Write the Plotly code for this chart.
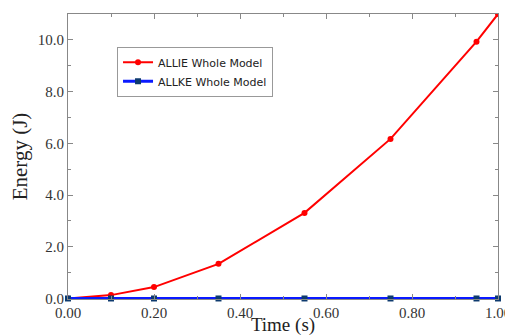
import plotly.graph_objects as go

time_s = [0.0, 0.1, 0.2, 0.35, 0.55, 0.75, 0.95, 1.0]
allie = [0.0, 0.13, 0.44, 1.34, 3.31, 6.17, 9.93, 11.0]
allke = [0.0, 0.0, 0.0, 0.0, 0.0, 0.0, 0.0, 0.0]
x_ticks = [0.0, 0.2, 0.4, 0.6, 0.8, 1.0]
y_ticks = [0.0, 2.0, 4.0, 6.0, 8.0, 10.0]

fig = go.Figure()
fig.add_trace(go.Scatter(x=time_s, y=allie, mode="lines+markers", name="ALLIE Whole Model",
                         line=dict(color="#ff0000", width=2),
                         marker=dict(color="#ff0000", size=6, symbol="circle")))
fig.add_trace(go.Scatter(x=time_s, y=allke, mode="lines+markers", name="ALLKE Whole Model",
                         line=dict(color="#0a1aff", width=3),
                         marker=dict(color="#0d3a6e", size=6, symbol="square"),
                         cliponaxis=False))

axis_common = dict(showline=True, linecolor="#888888", linewidth=1, mirror="ticks",
                   ticks="inside", ticklen=5, tickcolor="#888888", showgrid=False,
                   zeroline=False, automargin=False,
                   tickfont=dict(family="Liberation Serif", size=15, color="#333333"))

# page body has an 8px margin, so the figure is sized/offset to compensate
fig.update_layout(
    width=505, height=328,
    margin=dict(l=60, r=15, t=6, b=37),
    paper_bgcolor="white", plot_bgcolor="white",
    xaxis=dict(range=[0, 1.0], tickvals=x_ticks, tickformat=".2f",
               title=dict(text="Time (s)", font=dict(family="Liberation Serif", size=19, color="#222222"), standoff=0),
               minor=dict(ticks="inside", ticklen=3, dtick=0.1, tickcolor="#888888"),
               **axis_common),
    yaxis=dict(range=[-0.02, 11.0], tickvals=y_ticks, tickformat=".1f",
               title=dict(text="Energy (J)", font=dict(family="Liberation Serif", size=21, color="#222222"), standoff=6),
               minor=dict(ticks="inside", ticklen=3, dtick=1.0, tickcolor="#888888"),
               **axis_common),
    legend=dict(x=0.114, y=0.885, xanchor="left", yanchor="top",
                bordercolor="#999999", borderwidth=1, bgcolor="white",
                font=dict(family="DejaVu Sans", size=11, color="#222222"),
                tracegroupgap=0, itemwidth=30),
    showlegend=True,
)

fig.write_html("out.html")
